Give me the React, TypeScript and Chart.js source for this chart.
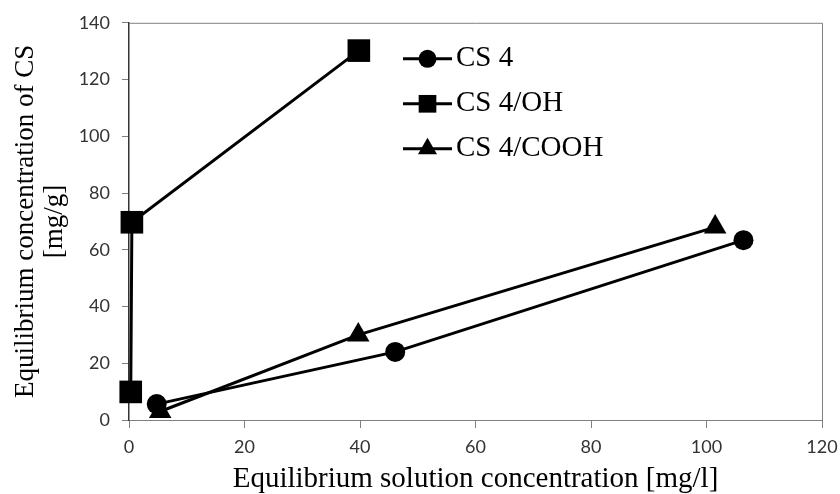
import React, { useEffect, useRef } from "react";
import { Chart, registerables } from "chart.js";

Chart.register(...registerables);

const seriesNames = ["CS 4", "CS 4/OH", "CS 4/COOH"];
const seriesStyles = ["circle", "rect", "triangle"];

const cs4X = [4.8, 46.1, 106.4];
const cs4Y = [5.6, 24.0, 63.4];

const ohX = [0.3, 0.5, 39.8];
const ohY = [9.9, 69.7, 130.2];

const coohX = [5.4, 39.7, 101.5];
const coohY = [3.0, 30.0, 68.0];

const xTicks = [0, 20, 40, 60, 80, 100, 120];
const yTicks = [0, 20, 40, 60, 80, 100, 120, 140];

const xTitle = "Equilibrium solution concentration [mg/l]";
const yTitle = ["Equilibrium concentration of CS", "[mg/g]"];

const toPoints = (xs: number[], ys: number[]) => xs.map((x, i) => ({ x, y: ys[i] }));

const SERIF = "'Liberation Serif', 'Times New Roman', serif";
const SANS = "Lato, 'Open Sans', sans-serif";

const radii: Record<string, number> = { circle: 10, rect: 16, triangle: 13 };

function drawMarker(ctx: CanvasRenderingContext2D, style: string, x: number, y: number, r: number) {
  ctx.beginPath();
  if (style === "circle") {
    ctx.arc(x, y, r, 0, Math.PI * 2);
  } else if (style === "rect") {
    const s = r * Math.SQRT1_2;
    ctx.rect(x - s, y - s, 2 * s, 2 * s);
  } else {
    let a = 0;
    ctx.moveTo(x + Math.sin(a) * r, y - Math.cos(a) * r);
    a += (2 * Math.PI) / 3;
    ctx.lineTo(x + Math.sin(a) * r, y - Math.cos(a) * r);
    a += (2 * Math.PI) / 3;
    ctx.lineTo(x + Math.sin(a) * r, y - Math.cos(a) * r);
    ctx.closePath();
  }
  ctx.fill();
}

const boxPlugin = {
  id: "boxBorder",
  beforeDatasetsDraw(chart: any) {
    const { ctx, chartArea } = chart;
    ctx.save();
    ctx.strokeStyle = "#808080";
    ctx.lineWidth = 1;
    ctx.beginPath();
    ctx.moveTo(chartArea.left, chartArea.top + 0.5);
    ctx.lineTo(chartArea.right + 0.5, chartArea.top + 0.5);
    ctx.lineTo(chartArea.right + 0.5, chartArea.bottom);
    ctx.stroke();
    ctx.restore();
  },
};

const legendPlugin = {
  id: "lineLegend",
  afterDatasetsDraw(chart: any) {
    const { ctx, chartArea } = chart;
    const x0 = chartArea.left + 274;
    const y0 = chartArea.top + 36;
    const gap = 45;
    ctx.save();
    chart.data.datasets.forEach((ds: any, i: number) => {
      const y = y0 + i * gap;
      ctx.strokeStyle = "#000";
      ctx.lineWidth = 3;
      ctx.beginPath();
      ctx.moveTo(x0, y);
      ctx.lineTo(x0 + 49, y);
      ctx.stroke();
      ctx.fillStyle = "#000";
      const style = ds.pointStyle;
      const r = style === "circle" ? 9 : style === "rect" ? 12.5 : 11;
      drawMarker(ctx, style, x0 + 24.5, y, r);
      ctx.font = `29px ${SERIF}`;
      ctx.textBaseline = "middle";
      ctx.textAlign = "left";
      ctx.fillText(ds.label, x0 + 53, y);
    });
    ctx.restore();
  },
};

export default function App() {
  const canvasRef = useRef<HTMLCanvasElement | null>(null);

  useEffect(() => {
    if (!canvasRef.current) return;
    const xsList = [cs4X, ohX, coohX];
    const ysList = [cs4Y, ohY, coohY];
    const chart = new Chart(canvasRef.current, {
      type: "scatter",
      data: {
        datasets: seriesNames.map((name, i) => ({
          label: name,
          data: toPoints(xsList[i], ysList[i]),
          showLine: true,
          borderColor: "#000",
          backgroundColor: "#000",
          borderWidth: 3,
          pointStyle: seriesStyles[i] as any,
          pointRadius: radii[seriesStyles[i]],
          pointHoverRadius: radii[seriesStyles[i]],
          pointBorderWidth: 0,
          pointBackgroundColor: "#000",
          clip: false as any,
        })),
      },
      options: {
        animation: false,
        responsive: false,
        maintainAspectRatio: false,
        events: [],
        layout: { padding: { top: 21, right: 18, left: 0, bottom: 0 } },
        plugins: {
          legend: { display: false },
          tooltip: { enabled: false },
        },
        scales: {
          x: {
            type: "linear",
            min: 0,
            max: 120,
            afterBuildTicks: (scale: any) => {
              scale.ticks = xTicks.map((v) => ({ value: v }));
            },
            afterFit: (scale: any) => {
              scale.height = 74;
              scale.paddingRight = 0;
              scale.paddingLeft = 0;
            },
            border: { display: true, color: "#808080", width: 1 },
            grid: { display: true, drawOnChartArea: false, drawTicks: true, tickLength: 8, color: "#808080" },
            ticks: { font: { family: SANS, size: 18 }, color: "#333", padding: 8, maxRotation: 0 },
            title: {
              display: true,
              text: xTitle,
              color: "#000",
              font: { family: SERIF, size: 29, lineHeight: 1 },
              padding: { top: 0, bottom: 0 },
            },
          },
          y: {
            type: "linear",
            min: 0,
            max: 140,
            afterBuildTicks: (scale: any) => {
              scale.ticks = yTicks.map((v) => ({ value: v }));
            },
            afterFit: (scale: any) => {
              scale.width = 129;
            },
            border: { display: true, color: "#333", width: 1.5 },
            grid: { display: true, drawOnChartArea: false, drawTicks: true, tickLength: 7, color: "#808080" },
            ticks: { font: { family: SANS, size: 18 }, color: "#333", padding: 12 },
            title: {
              display: true,
              text: yTitle,
              color: "#000",
              font: { family: SERIF, size: 27, lineHeight: 1.05 },
              padding: { top: 12, bottom: 0 },
            },
          },
        },
      },
      plugins: [boxPlugin, legendPlugin],
    });
    return () => chart.destroy();
  }, []);

  return (
    <div style={{ position: "fixed", left: 0, top: 0, width: 840, height: 494, background: "#fff" }}>
      <canvas ref={canvasRef} width={840} height={494} style={{ width: 840, height: 494 }} />
    </div>
  );
}
